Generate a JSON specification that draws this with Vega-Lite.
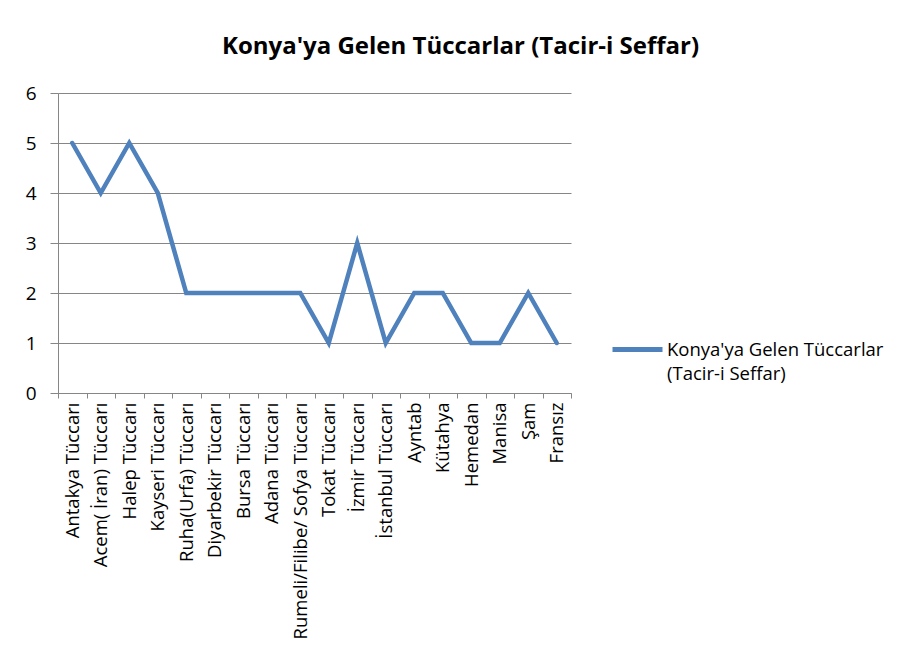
{
  "$schema": "https://vega.github.io/schema/vega-lite/v6.json",
  "autosize": "none",
  "width": 513,
  "height": 300,
  "padding": {"left": 58, "top": 93, "right": 339, "bottom": 266},
  "background": "white",
  "title": {
    "text": "Konya'ya Gelen Tüccarlar (Tacir-i Seffar)",
    "font": "Open Sans",
    "fontSize": 24,
    "fontWeight": "bold",
    "color": "#000000",
    "anchor": "middle",
    "dx": 146,
    "offset": 25
  },
  "data": {
    "values": [
      {"kategori": "Antakya Tüccarı", "deger": 5, "seri": "Konya'ya Gelen Tüccarlar (Tacir-i Seffar)"},
      {"kategori": "Acem( İran) Tüccarı", "deger": 4, "seri": "Konya'ya Gelen Tüccarlar (Tacir-i Seffar)"},
      {"kategori": "Halep Tüccarı", "deger": 5, "seri": "Konya'ya Gelen Tüccarlar (Tacir-i Seffar)"},
      {"kategori": "Kayseri Tüccarı", "deger": 4, "seri": "Konya'ya Gelen Tüccarlar (Tacir-i Seffar)"},
      {"kategori": "Ruha(Urfa) Tüccarı", "deger": 2, "seri": "Konya'ya Gelen Tüccarlar (Tacir-i Seffar)"},
      {"kategori": "Diyarbekir Tüccarı", "deger": 2, "seri": "Konya'ya Gelen Tüccarlar (Tacir-i Seffar)"},
      {"kategori": "Bursa Tüccarı", "deger": 2, "seri": "Konya'ya Gelen Tüccarlar (Tacir-i Seffar)"},
      {"kategori": "Adana Tüccarı", "deger": 2, "seri": "Konya'ya Gelen Tüccarlar (Tacir-i Seffar)"},
      {"kategori": "Rumeli/Filibe/ Sofya Tüccarı", "deger": 2, "seri": "Konya'ya Gelen Tüccarlar (Tacir-i Seffar)"},
      {"kategori": "Tokat Tüccarı", "deger": 1, "seri": "Konya'ya Gelen Tüccarlar (Tacir-i Seffar)"},
      {"kategori": "İzmir Tüccarı", "deger": 3, "seri": "Konya'ya Gelen Tüccarlar (Tacir-i Seffar)"},
      {"kategori": "İstanbul Tüccarı", "deger": 1, "seri": "Konya'ya Gelen Tüccarlar (Tacir-i Seffar)"},
      {"kategori": "Ayntab", "deger": 2, "seri": "Konya'ya Gelen Tüccarlar (Tacir-i Seffar)"},
      {"kategori": "Kütahya", "deger": 2, "seri": "Konya'ya Gelen Tüccarlar (Tacir-i Seffar)"},
      {"kategori": "Hemedan", "deger": 1, "seri": "Konya'ya Gelen Tüccarlar (Tacir-i Seffar)"},
      {"kategori": "Manisa", "deger": 1, "seri": "Konya'ya Gelen Tüccarlar (Tacir-i Seffar)"},
      {"kategori": "Şam", "deger": 2, "seri": "Konya'ya Gelen Tüccarlar (Tacir-i Seffar)"},
      {"kategori": "Fransız", "deger": 1, "seri": "Konya'ya Gelen Tüccarlar (Tacir-i Seffar)"}
    ]
  },
  "mark": {"type": "line", "strokeWidth": 4.5, "strokeJoin": "miter", "strokeCap": "round"},
  "encoding": {
    "x": {
      "field": "kategori",
      "type": "nominal",
      "sort": null,
      "scale": {"type": "band", "paddingInner": 0, "paddingOuter": 0},
      "axis": {
        "title": null,
        "labelAngle": -90,
        "labelAlign": "right",
        "labelBaseline": "middle",
        "labelFont": "Open Sans",
        "labelFontSize": 18.5,
        "labelColor": "#000000",
        "labelLimit": 400,
        "labelPadding": 4,
        "tickBand": "extent",
        "tickSize": 5,
        "tickColor": "#868686",
        "domainColor": "#868686",
        "grid": false
      }
    },
    "y": {
      "field": "deger",
      "type": "quantitative",
      "scale": {"domain": [0, 6], "nice": false},
      "axis": {
        "title": null,
        "values": [0, 1, 2, 3, 4, 5, 6],
        "labelFont": "Open Sans",
        "labelFontSize": 19,
        "labelColor": "#000000",
        "labelPadding": 14,
        "tickSize": 8,
        "tickColor": "#868686",
        "domainColor": "#868686",
        "grid": true,
        "gridColor": "#868686",
        "gridWidth": 1
      }
    },
    "color": {
      "field": "seri",
      "type": "nominal",
      "scale": {"range": ["#4F81BD"]},
      "legend": {
        "title": null,
        "orient": "none",
        "legendX": 552,
        "legendY": 229,
        "symbolType": "stroke",
        "symbolSize": 2500,
        "symbolStrokeWidth": 5,
        "labelFont": "Open Sans",
        "labelFontSize": 18.5,
        "labelColor": "#000000",
        "labelLimit": 400,
        "labelOffset": 2,
        "labelBaseline": "top",
        "labelExpr": "[slice(datum.label, 0, 24), slice(datum.label, 25)]",
        "encode": {
          "labels": {"update": {"lineHeight": {"value": 24}, "dy": {"value": -9}}}
        }
      }
    }
  },
  "config": {"view": {"stroke": null}}
}
